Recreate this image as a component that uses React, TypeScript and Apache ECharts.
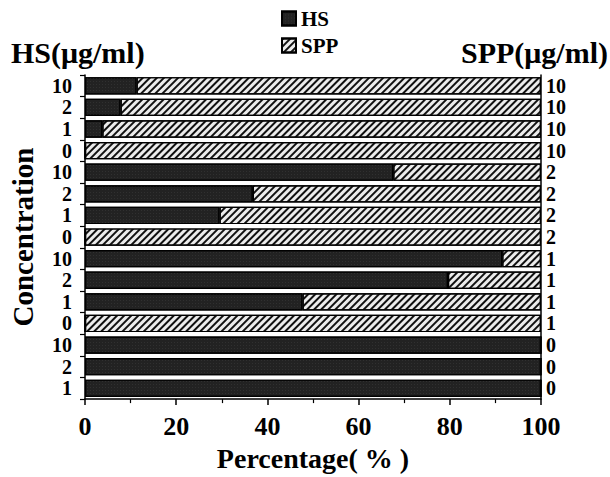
import React, { useEffect, useRef } from "react";
import * as echarts from "echarts";

const hsLabels = ["10", "2", "1", "0", "10", "2", "1", "0", "10", "2", "1", "0", "10", "2", "1"];
const sppLabels = ["10", "10", "10", "10", "2", "2", "2", "2", "1", "1", "1", "1", "0", "0", "0"];
const hsValues = [11.3, 7.8, 3.8, 0, 67.6, 36.8, 29.5, 0, 91.5, 79.6, 47.7, 0, 100, 100, 100];
const sppValues = hsValues.map((v) => 100 - v);
const rowIds = hsLabels.map((_, i) => "r" + i);
const xTicks = [0, 20, 40, 60, 80, 100];

const FONT = "'Liberation Serif', 'DejaVu Serif', serif";

export default function App() {
  const ref = useRef<HTMLDivElement>(null);
  useEffect(() => {
    if (!ref.current) return;
    const chart = echarts.init(ref.current, null, { renderer: "svg" });
    chart.setOption({
      animation: false,
      backgroundColor: "#fff",
      textStyle: { fontFamily: FONT, color: "#000" },
      legend: {
        orient: "vertical",
        left: 276,
        top: 3,
        itemWidth: 14,
        itemHeight: 14,
        itemGap: 6,
        icon: "rect",
        textStyle: { fontFamily: FONT, fontWeight: "bold", fontSize: 21, color: "#000" },
        data: ["HS", "SPP"],
      },
      graphic: [
        {
          type: "text",
          left: 11,
          top: 37,
          style: { text: "HS(μg/ml)", font: "bold 30px " + FONT, fill: "#000" },
        },
        {
          type: "text",
          right: 2,
          top: 37,
          style: { text: "SPP(μg/ml)", font: "bold 30px " + FONT, fill: "#000" },
        },
      ],
      grid: { left: 83, right: 69, top: 75, bottom: 73 },
      xAxis: {
        type: "value",
        min: 0,
        max: 100,
        interval: 20,
        name: "Percentage( % )",
        nameLocation: "middle",
        nameGap: 38,
        nameTextStyle: { fontFamily: FONT, fontWeight: "bold", fontSize: 28, color: "#000" },
        axisLine: { show: true, lineStyle: { color: "#000", width: 1.5 } },
        axisTick: { show: true, length: 6, lineStyle: { color: "#000", width: 1.5 } },
        minorTick: { show: true, splitNumber: 2, length: 4, lineStyle: { color: "#000", width: 1.2 } },
        splitLine: { show: false },
        axisLabel: {
          margin: 14,
          fontFamily: FONT,
          fontWeight: "bold",
          fontSize: 26,
          color: "#000",
          formatter: (v: number) => (xTicks.includes(v) ? String(v) : ""),
        },
      },
      yAxis: [
        {
          type: "category",
          inverse: true,
          data: rowIds,
          position: "left",
          name: "Concentration",
          nameLocation: "middle",
          nameRotate: 90,
          nameGap: 48,
          nameTextStyle: { fontFamily: FONT, fontWeight: "bold", fontSize: 29, color: "#000" },
          axisLine: { show: true, lineStyle: { color: "#000", width: 1.5 } },
          axisTick: { show: true, interval: 0, length: 5, lineStyle: { color: "#000", width: 1.2 } },
          axisLabel: {
            interval: 0,
            margin: 13,
            fontFamily: FONT,
            fontWeight: "bold",
            fontSize: 20,
            color: "#000",
            formatter: (_v: string, i: number) => hsLabels[i],
          },
        },
        {
          type: "category",
          inverse: true,
          data: rowIds,
          position: "right",
          axisLine: { show: true, lineStyle: { color: "#000", width: 1.5 } },
          axisTick: { show: false },
          axisLabel: {
            interval: 0,
            margin: 5,
            fontFamily: FONT,
            fontWeight: "bold",
            fontSize: 20,
            color: "#000",
            formatter: (_v: string, i: number) => sppLabels[i],
          },
        },
      ],
      series: [
        {
          name: "HS",
          type: "bar",
          stack: "total",
          yAxisIndex: 0,
          barCategoryGap: "20%",
          data: hsValues,
          itemStyle: {
            color: "#222",
            borderColor: "#000",
            borderWidth: 1.2,
            decal: {
              symbol: "rect",
              symbolSize: 0.6,
              color: "rgba(110,110,110,0.6)",
              dashArrayX: [1, 2],
              dashArrayY: [1, 2],
            },
          },
        },
        {
          name: "SPP",
          type: "bar",
          stack: "total",
          yAxisIndex: 0,
          barCategoryGap: "20%",
          data: sppValues,
          itemStyle: {
            color: "#ececec",
            borderColor: "#000",
            borderWidth: 1.2,
            decal: {
              symbol: "rect",
              symbolSize: 1,
              color: "#111",
              dashArrayX: [1, 0],
              dashArrayY: [1.2, 3],
              rotation: -Math.PI / 4,
            },
          },
        },
      ],
    });
    return () => chart.dispose();
  }, []);
  return (
    <div
      ref={ref}
      style={{ position: "fixed", left: 0, top: 0, width: 610, height: 477 }}
    />
  );
}
